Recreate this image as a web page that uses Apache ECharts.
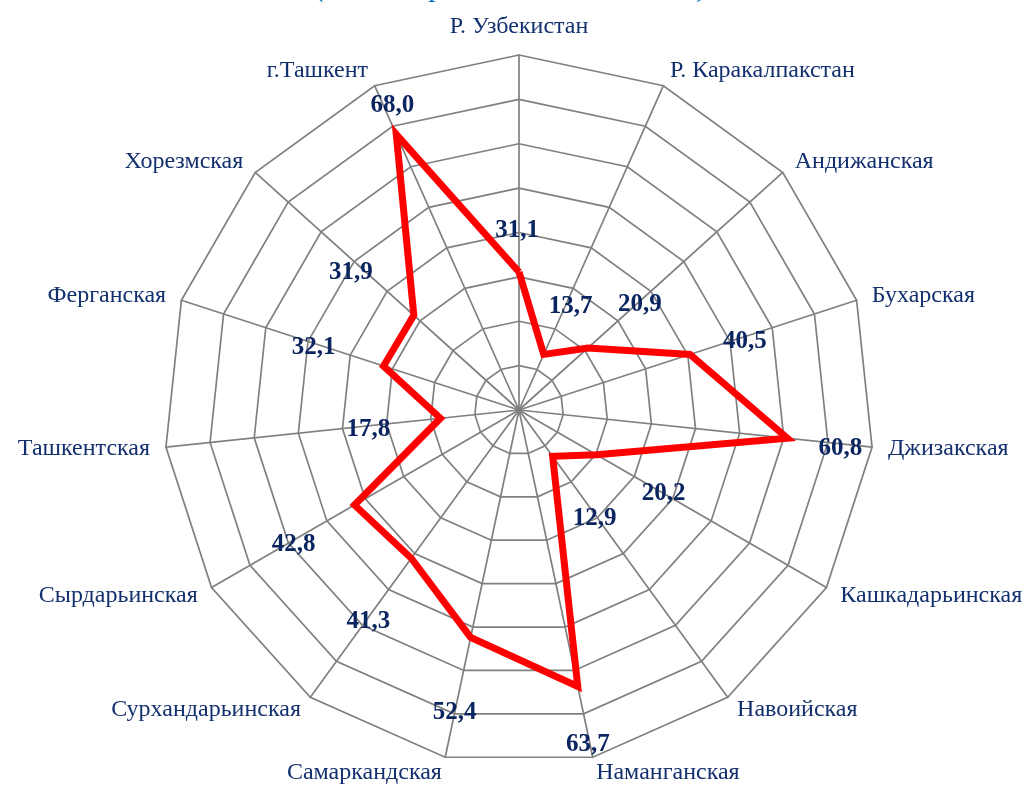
<!DOCTYPE html>
<html>
<head>
<meta charset="utf-8">
<title>Radar</title>
<script src="https://cdn.jsdelivr.net/npm/echarts@6/dist/echarts.min.js"></script>
<style>
  html, body { margin: 0; padding: 0; background: #fff; }
  #chart { width: 1024px; height: 785px; }
</style>
</head>
<body>
<div id="chart"></div>
<script>
// regions, clockwise from the top
var regions = ['Р. Узбекистан', 'Р. Каракалпакстан', 'Андижанская', 'Бухарская', 'Джизакская',
  'Кашкадарьинская', 'Навоийская', 'Наманганская', 'Самаркандская', 'Сурхандарьинская',
  'Сырдарьинская', 'Ташкентская', 'Ферганская', 'Хорезмская', 'г.Ташкент'];
var values = [31.1, 13.7, 20.9, 40.5, 60.8, 20.2, 12.9, 63.7, 52.4, 41.3, 42.8, 17.8, 32.1, 31.9, 68.0];
var maxValue = 80;
// where each value label sits relative to its point (px)
var labelOffsets = [[-2, -41], [27, -48], [52, -43], [55, -13], [53, 10], [67, 39], [42, 62], [10, 58],
  [-16, 75], [-43, 63], [-61, 40], [-72, 11], [-70, -18], [-63, -43], [-4, -29]];

var cx = 519, cy = 410, R = 355;
var navy = '#13306e';

// echarts radar goes counter-clockwise, so keep the first one and reverse the rest
function ccw(arr) {
  return [arr[0]].concat(arr.slice(1).reverse());
}

var indicators = ccw(regions).map(function (n) {
  return { name: n, max: maxValue, min: 0 };
});

var labelData = values.map(function (v, i) {
  return {
    value: [v, i],
    label: { offset: labelOffsets[i] }
  };
});

var chart = echarts.init(document.getElementById('chart'));
chart.setOption({
  backgroundColor: '#fff',
  animation: false,
  title: {
    text: '(на 1000 родившихся живыми)',
    left: 'center',
    top: -32,
    textStyle: {
      color: '#0070c0',
      fontStyle: 'italic',
      fontWeight: 'normal',
      fontFamily: 'Liberation Serif',
      fontSize: 30
    }
  },
  radar: {
    center: [cx, cy],
    radius: R,
    startAngle: 90,
    splitNumber: 8,
    shape: 'polygon',
    nameGap: 16,
    axisName: {
      color: navy,
      fontFamily: 'Liberation Serif',
      fontSize: 24
    },
    splitLine: { lineStyle: { color: '#808080', width: 1.7 } },
    axisLine: { lineStyle: { color: '#808080', width: 1.7 } },
    splitArea: { show: false },
    indicator: indicators
  },
  polar: {
    center: [cx, cy],
    radius: R
  },
  angleAxis: {
    type: 'value',
    min: 0,
    max: regions.length,
    startAngle: 90,
    clockwise: true,
    show: false
  },
  radiusAxis: {
    type: 'value',
    min: 0,
    max: maxValue,
    show: false
  },
  series: [{
    type: 'radar',
    symbol: 'none',
    z: 3,
    lineStyle: { color: '#ff0000', width: 7, join: 'miter' },
    data: [{ value: ccw(values) }]
  }, {
    type: 'scatter',
    coordinateSystem: 'polar',
    symbolSize: 0,
    z: 5,
    itemStyle: { opacity: 1 },
    label: {
      show: true,
      position: 'inside',
      color: '#0b2560',
      opacity: 1,
      textBorderWidth: 0,
      textBorderColor: 'transparent',
      fontFamily: 'Liberation Serif',
      fontWeight: 'bold',
      fontSize: 25,
      formatter: function (p) {
        return p.value[0].toFixed(1).replace('.', ',');
      }
    },
    data: labelData
  }]
});
</script>
</body>
</html>
